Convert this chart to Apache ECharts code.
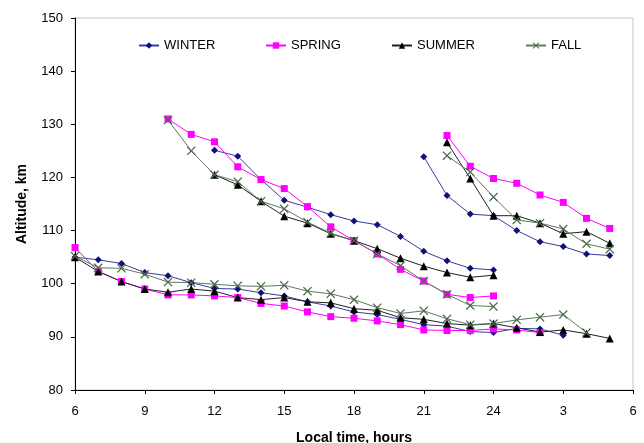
<!DOCTYPE html>
<html><head><meta charset="utf-8">
<script src="https://cdn.jsdelivr.net/npm/echarts@6/dist/echarts.min.js"></script>
<style>html,body{margin:0;padding:0;background:#fff}#c{width:644px;height:443px}</style>
</head><body><div id="c"></div>
<script>
// Hours (values above 24 are after midnight)
const winterLowH = [6,7,8,9,10,11,12,13,14,15,16,17,18,19,20,21,22,23,24,25,26,27];
const winterLow  = [105.0,104.5,103.8,102.1,101.5,100.2,99.1,99.0,98.3,97.7,96.6,95.8,94.7,94.2,93.3,92.3,92.0,91.0,90.8,91.6,91.5,90.3];
const springLowH = [6,7,8,9,10,11,12,13,14,15,16,17,18,19,20,21,22,23,24,25,26];
const springLow  = [106.8,102.3,100.4,99.0,97.9,97.9,97.7,97.4,96.3,95.8,94.7,93.8,93.5,93.0,92.3,91.3,91.2,91.2,91.5,91.3,90.8];
const summerLowH = [6,7,8,9,10,11,12,13,14,15,16,17,18,19,20,21,22,23,24,25,26,27,28,29];
const summerLow  = [105.0,102.3,100.4,99.0,98.4,99.0,98.6,97.4,97.0,97.4,96.6,96.4,95.3,95.0,93.6,93.3,92.5,92.2,92.5,91.7,90.9,91.3,90.6,89.7];
const fallLowH   = [6,7,8,9,10,11,12,13,14,15,16,17,18,19,20,21,22,23,24,25,26,27,28];
const fallLow    = [105.2,103.0,102.9,101.8,100.3,100.2,99.9,99.6,99.5,99.7,98.6,98.1,97.0,95.5,94.4,94.9,93.4,92.3,92.5,93.2,93.7,94.2,90.8];

const winterDayH = [12,13,14,15,16,17,18,19,20,21,22,23,24];
const winterDay  = [125.1,124.0,119.6,115.7,114.4,113.0,111.8,111.1,108.9,106.1,104.3,102.9,102.6];
const springDayH = [10,11,12,13,14,15,16,17,18,19,20,21,22,23,24];
const springDay  = [131.0,128.1,126.7,122.0,119.6,117.9,114.5,110.7,108.1,105.6,102.7,100.5,98.0,97.4,97.7];
const summerDayH = [12,13,14,15,16,17,18,19,20,21,22,23,24];
const summerDay  = [120.5,118.6,115.5,112.7,111.4,109.4,108.1,106.6,104.8,103.3,102.1,101.2,101.6];
const fallDayH   = [10,11,12,13,14,15,16,17,18,19,20,21,22,23,24];
const fallDay    = [130.8,125.0,120.5,119.2,115.5,114.1,111.6,109.5,108.1,105.6,103.4,100.5,98.0,95.9,95.7];

const winterNightH = [21,22,23,24,25,26,27,28,29];
const winterNight  = [123.9,116.6,113.1,112.8,110.0,107.9,107.0,105.6,105.3];
const springNightH = [22,23,24,25,26,27,28,29];
const springNight  = [127.9,122.1,119.8,118.9,116.7,115.3,112.3,110.4];
const summerNightH = [22,23,24,25,26,27,28,29];
const summerNight  = [126.6,119.8,112.8,112.8,111.4,109.4,109.8,107.6];
const fallNightH   = [22,23,24,25,26,27,28,29];
const fallNight    = [124.1,121.0,116.3,112.0,111.4,110.3,107.5,106.5];

const seasons = ['WINTER','SPRING','SUMMER','FALL'];
const xTicks = [6,9,12,15,18,21,24,27,30];

const FONT = 'Liberation Sans, Arial, sans-serif';
const xSym = 'path://M0,1L1,0L5,4L9,0L10,1L6,5L10,9L9,10L5,6L1,10L0,9L4,5Z';
const styles = {
  WINTER: {line:'#3a3aa0', sym:'diamond', size:7, fill:'#10107a'},
  SPRING: {line:'#ff00ff', sym:'rect', size:7, fill:'#ff00ff'},
  SUMMER: {line:'#202020', sym:'triangle', size:8, fill:'#000000'},
  FALL:   {line:'#5e7a5e', sym:xSym, size:9, fill:'#4d6b4d'}
};
const segs = {
  WINTER: [[winterLowH,winterLow],[winterDayH,winterDay],[winterNightH,winterNight]],
  SPRING: [[springLowH,springLow],[springDayH,springDay],[springNightH,springNight]],
  SUMMER: [[summerLowH,summerLow],[summerDayH,summerDay],[summerNightH,summerNight]],
  FALL:   [[fallLowH,fallLow],[fallDayH,fallDay],[fallNightH,fallNight]]
};
const series = [];
seasons.forEach(s => {
  const st = styles[s];
  segs[s].forEach(([h,v]) => {
    series.push({
      name: s, type: 'line', data: h.map((x,i)=>[x,v[i]]),
      symbol: st.sym, symbolSize: st.size, showSymbol: true,
      lineStyle: {color: st.line, width: 1},
      itemStyle: {color: st.fill, borderWidth: 0},
      emphasis: {disabled: true}, animation: false
    });
  });
});
const legendLeft = [138, 265, 391, 525];
const legends = seasons.map((s,i)=>({
  data:[s], left: legendLeft[i], top: 39, padding: 0, itemWidth: 20, itemHeight: 8, itemGap: 4,
  textStyle:{fontFamily:FONT, fontSize:13, color:'#000'}
}));
const chart = echarts.init(document.getElementById('c'), null, {renderer:'canvas'});
chart.setOption({
  backgroundColor:'#fff',
  animation:false,
  legend: legends,
  grid:{left:75, right:11, top:18, bottom:53, show:true, borderColor:'#c4c4c4', borderWidth:1,
        containLabel:false, outerBoundsMode:'none'},
  xAxis:{type:'value', min:6, max:30, interval:3,
    axisLine:{lineStyle:{color:'#000'}},
    axisTick:{show:true, length:4, lineStyle:{color:'#000'}},
    splitLine:{show:false},
    axisLabel:{fontFamily:FONT, fontSize:13, color:'#000', margin:15,
      formatter:v=> xTicks.indexOf(v)>=0 ? String(v>24? v-24 : v) : ''},
    name:'Local time, hours', nameLocation:'middle', nameGap:41,
    nameTextStyle:{fontFamily:FONT, fontSize:14, fontWeight:'bold', color:'#000'}},
  yAxis:{type:'value', min:80, max:150, interval:10,
    axisLine:{show:true, lineStyle:{color:'#000'}},
    axisTick:{show:true, length:4, lineStyle:{color:'#000'}},
    splitLine:{show:false},
    axisLabel:{fontFamily:FONT, fontSize:13, color:'#000', margin:12},
    name:'Altitude, km', nameLocation:'middle', nameGap:46,
    nameTextStyle:{fontFamily:FONT, fontSize:14, fontWeight:'bold', color:'#000'}},
  series: series
});
</script></body></html>
